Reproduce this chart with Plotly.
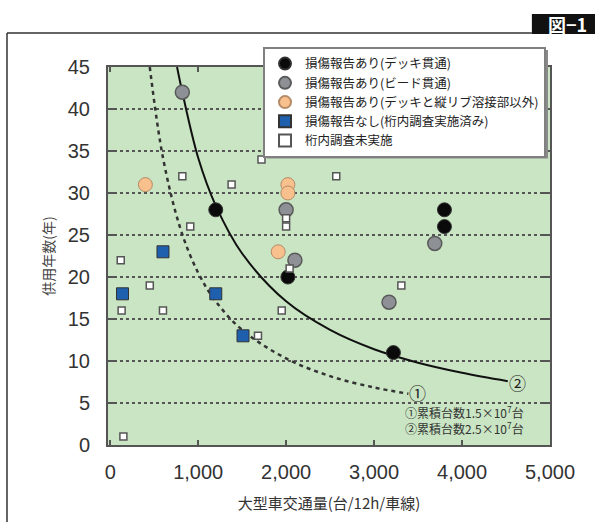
import plotly.graph_objects as go

# ---------------- data ----------------
deck_x = [1200, 2020, 3220, 3800, 3800]
deck_y = [28, 20, 11, 28, 26]

bead_x = [820, 2000, 2100, 3170, 3690]
bead_y = [42, 28, 22, 17, 24]

other_x = [400, 2020, 2020, 1910]
other_y = [31, 31, 30, 23]

nodmg_x = [600, 140, 1200, 1510]
nodmg_y = [23, 18, 18, 13]

unsurv_x = [1720, 820, 1380, 2570, 910, 2000, 2000, 120, 450, 130, 600, 1950, 1680, 2040, 150, 3310]
unsurv_y = [34, 32, 31, 32, 26, 27, 26, 22, 19, 16, 16, 16, 13, 21, 1, 19]

# curves
curve2_x = [760, 820, 1000, 1200, 1500, 2000, 2500, 3000, 3500, 4000, 4520]
curve2_y = [45, 42, 34.2, 28.5, 22.8, 17.1, 13.7, 11.4, 9.8, 8.6, 7.6]
curve1_x = [450, 600, 800, 1000, 1200, 1500, 2000, 2500, 3000, 3390]
curve1_y = [45, 34.2, 25.7, 20.5, 17.1, 13.7, 10.3, 8.2, 6.85, 6.1]

legend_names = [
    "損傷報告あり(デッキ貫通)",
    "損傷報告あり(ビード貫通)",
    "損傷報告あり(デッキと縦リブ溶接部以外)",
    "損傷報告なし(桁内調査実施済み)",
    "桁内調査未実施",
]
x_ticks = [0, 1000, 2000, 3000, 4000, 5000]
y_ticks = [0, 5, 10, 15, 20, 25, 30, 35, 40, 45]
x_title = "大型車交通量(台/12h/車線)"
y_title = "供用年数(年)"
note1 = "①累積台数1.5×10<sup>7</sup>台"
note2 = "②累積台数2.5×10<sup>7</sup>台"
fig_label = "図−1"

CJK = "Noto Sans CJK JP"
NUM = "Liberation Sans, Arial"

fig = go.Figure()

fig.add_trace(go.Scatter(x=curve1_x, y=curve1_y, mode="lines", line=dict(color="#333", width=2.5, dash="4px,4px", shape="spline"),
                         showlegend=False, hoverinfo="skip"))
fig.add_trace(go.Scatter(x=curve2_x, y=curve2_y, mode="lines", line=dict(color="#111", width=2, shape="spline"),
                         showlegend=False, hoverinfo="skip"))

fig.add_trace(go.Scatter(x=deck_x, y=deck_y, mode="markers", name=legend_names[0],
                         marker=dict(symbol="circle", size=14, color="#0a0a0a", line=dict(color="#333", width=1))))
fig.add_trace(go.Scatter(x=bead_x, y=bead_y, mode="markers", name=legend_names[1],
                         marker=dict(symbol="circle", size=14, color="#8d9094", line=dict(color="#5a5a5a", width=1.5))))
fig.add_trace(go.Scatter(x=other_x, y=other_y, mode="markers", name=legend_names[2],
                         marker=dict(symbol="circle", size=14, color="#f8c08c", line=dict(color="#b58a66", width=1))))
fig.add_trace(go.Scatter(x=nodmg_x, y=nodmg_y, mode="markers", name=legend_names[3],
                         marker=dict(symbol="square", size=12, color="#1e5fae", line=dict(color="#333", width=1))))
fig.add_trace(go.Scatter(x=unsurv_x, y=unsurv_y, mode="markers", name=legend_names[4],
                         marker=dict(symbol="square", size=7, color="white", line=dict(color="#555", width=1.5))))

# curve end labels
fig.add_annotation(x=3490, y=6.2, text="①", showarrow=False, font=dict(family=CJK, size=17, color="#222"))
fig.add_annotation(x=4630, y=7.5, text="②", showarrow=False, font=dict(family=CJK, size=17, color="#222"))
fig.add_annotation(x=3330, y=3.9, text=note1, showarrow=False, xanchor="left",
                   font=dict(family=CJK, size=12, color="#333"))
fig.add_annotation(x=3330, y=2.0, text=note2, showarrow=False, xanchor="left",
                   font=dict(family=CJK, size=12, color="#333"))

# figure label box
fig.add_shape(type="rect", xref="paper", yref="paper", x0=0.959, x1=1.11, y0=1.0873, y1=1.140,
              fillcolor="#111", line=dict(width=0))
fig.add_annotation(xref="paper", yref="paper", x=1.04, y=1.1137, text="<b>" + fig_label + "</b>", showarrow=False,
                   xanchor="center", yanchor="middle",
                   font=dict(family=CJK, size=18, color="white"))
# outer frame (left and top)
fig.add_shape(type="line", xref="paper", yref="paper", x0=-0.2285, x1=0.959, y0=1.0899, y1=1.0899,
              line=dict(color="#333", width=1.5))
fig.add_shape(type="line", xref="paper", yref="paper", x0=-0.2285, x1=-0.2285, y0=1.0899, y1=-0.25,
              line=dict(color="#333", width=1.5))
# legend shadow
fig.add_shape(type="rect", xref="paper", yref="paper", x0=0.36, x1=0.9955, y0=0.758, y1=1.045,
              fillcolor="#8a8a8a", line=dict(width=0), layer="above")

fig.update_layout(
    width=595, height=522,
    margin=dict(l=108, r=45, t=67, b=77, autoexpand=False),
    paper_bgcolor="white",
    plot_bgcolor="#c9e5c3",
    font=dict(family=NUM, color="#333"),
    legend=dict(x=0.3507, y=1.053, xanchor="left", yanchor="top",
                bgcolor="white", bordercolor="#808080", borderwidth=2,
                font=dict(family=CJK, size=12.5, color="#222"),
                itemsizing="constant", tracegroupgap=0),
    showlegend=True,
)
fig.update_xaxes(range=[-25, 5000], tickvals=x_ticks, tickformat=",",
                 showgrid=False, zeroline=False, automargin=False,
                 showline=True, linecolor="#555", linewidth=2, mirror="ticks",
                 ticks="inside", ticklen=5, tickcolor="#555", tickwidth=1.5,
                 tickfont=dict(family=NUM, size=20, color="#333"), ticklabelstandoff=8,
                 title=dict(text=x_title, font=dict(family=CJK, size=15, color="#333"), standoff=16))
fig.update_yaxes(range=[0, 45], tickvals=y_ticks,
                 showgrid=True, gridcolor="#555", gridwidth=2, griddash="dot", zeroline=False, automargin=False,
                 showline=True, linecolor="#555", linewidth=2, mirror="ticks",
                 ticks="inside", ticklen=7, tickcolor="#555", tickwidth=1.5,
                 tickfont=dict(family=NUM, size=20, color="#333"), ticklabelstandoff=12,
                 title=dict(text=y_title, font=dict(family=CJK, size=14, color="#444"), standoff=10))

fig.write_html("out.html", config={"displayModeBar": False},
               post_script="document.body.style.margin='0';")
